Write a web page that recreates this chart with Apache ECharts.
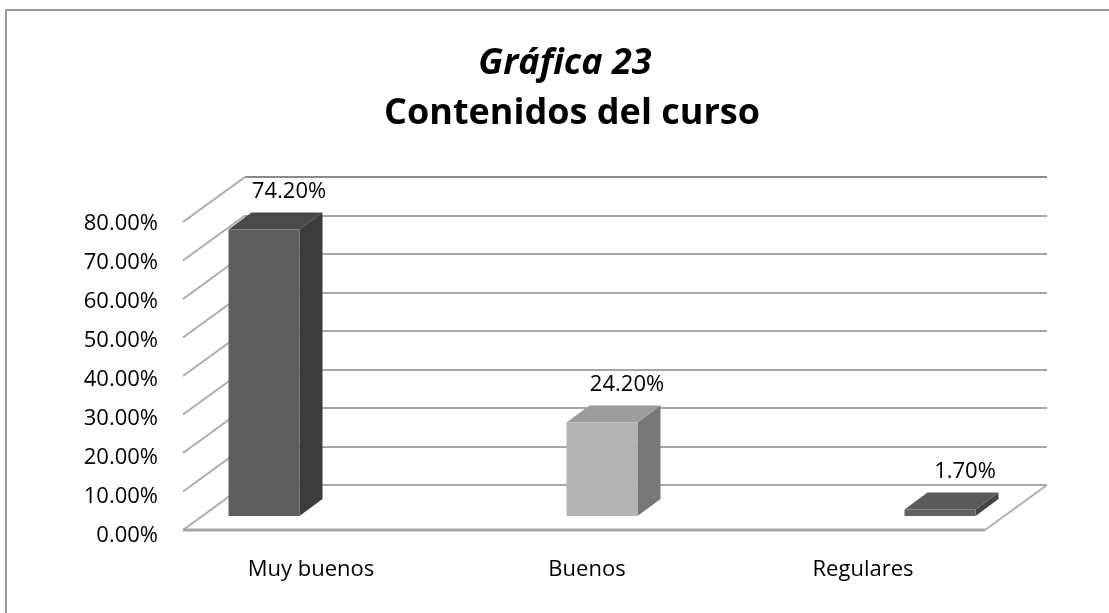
<!DOCTYPE html>
<html><head><meta charset="utf-8">
<script src="https://cdn.jsdelivr.net/npm/echarts@6/dist/echarts.min.js"></script>
<style>html,body{margin:0;padding:0;background:#fff}#c{width:1109px;height:613px}</style>
</head><body><div id="c"></div>
<script>
const categories = ['Muy buenos', 'Buenos', 'Regulares'];
const values = [74.2, 24.2, 1.7];
const yTicks = [0, 10, 20, 30, 40, 50, 60, 70, 80];
const titleLine1 = 'Gráfica 23';
const titleLine2 = 'Contenidos del curso';

const FONT = '"Open Sans", sans-serif';
const WALL_DX = -62, WALL_DY = 45;
const BAR_DX = 23, BAR_DY = -17;
const BAR_W = 71;
const barColors = [
  {front: '#5e5e5e', top: '#4a4a4a', side: '#3c3c3c'},
  {front: '#b4b4b4', top: '#9c9c9c', side: '#777777'},
  {front: '#626262', top: '#5a5a5a', side: '#444444'}
];

function renderDiag(params, api) {
  const p = api.coord([0, api.value(1)]);
  return {type: 'line', shape: {x1: p[0] + WALL_DX, y1: p[1] + WALL_DY, x2: p[0], y2: p[1]},
    style: {stroke: '#ababab', lineWidth: 2}};
}
function renderFloor(params, api) {
  const a = api.coord([0, 0]), b = api.coord([1, 0]);
  return {type: 'group', children: [
    {type: 'line', shape: {x1: a[0] + WALL_DX, y1: a[1] + WALL_DY, x2: b[0] + WALL_DX, y2: b[1] + WALL_DY},
      style: {stroke: '#a6a6a6', lineWidth: 3}},
    {type: 'line', shape: {x1: b[0] + WALL_DX, y1: b[1] + WALL_DY, x2: b[0], y2: b[1]},
      style: {stroke: '#b0b0b0', lineWidth: 2}}
  ]};
}
function renderBar(params, api) {
  const i = api.value(0), v = api.value(1);
  const top = api.coord([i, v]), base = api.coord([i, 0]);
  const cx = top[0], x0 = cx - BAR_W / 2, x1 = cx + BAR_W / 2;
  const c = barColors[params.dataIndex];
  const yt = top[1], yb = base[1];
  return {type: 'group', children: [
    {type: 'polygon', shape: {points: [[x1, yt], [x1 + BAR_DX, yt + BAR_DY], [x1 + BAR_DX, yb + BAR_DY], [x1, yb]]}, style: {fill: c.side}},
    {type: 'polygon', shape: {points: [[x0, yt], [x1, yt], [x1 + BAR_DX, yt + BAR_DY], [x0 + BAR_DX, yt + BAR_DY]]}, style: {fill: c.top}},
    {type: 'rect', shape: {x: x0, y: yt, width: BAR_W, height: yb - yt}, style: {fill: c.front}},
    {type: 'text', x: cx + 25, y: yt - 38, style: {text: v.toFixed(2) + '%', align: 'center', verticalAlign: 'middle',
      fontFamily: FONT, fontSize: 22, fill: '#000'}}
  ]};
}

const gridColors = ['#a6a6a6','#a6a6a6','#a6a6a6','#a6a6a6','#a6a6a6','#a6a6a6','#a6a6a6','#a6a6a6','#8a8a8a'];

const chart = echarts.init(document.getElementById('c'), null, {renderer: 'canvas'});
chart.setOption({
  animation: false,
  backgroundColor: '#fff',
  title: [
    {text: titleLine1, left: 560, top: 41, textAlign: 'center',
      textStyle: {fontFamily: FONT, fontSize: 36, fontWeight: 'bold', fontStyle: 'italic', color: '#000'}},
    {text: titleLine2, left: 567, top: 91, textAlign: 'center',
      textStyle: {fontFamily: FONT, fontSize: 36, fontWeight: 'bold', color: '#000'}}
  ],
  graphic: [{type: 'rect', shape: {x: 6, y: 10, width: 1200, height: 700}, style: {fill: 'none', stroke: '#9a9a9a', lineWidth: 2}, z: -1}],
  grid: [
    {left: 245, right: 62, top: 177, bottom: 128, containLabel: false, outerBoundsMode: 'none'},
    {left: 95, right: 0, top: 207, bottom: 97, containLabel: false, outerBoundsMode: 'none'},
    {left: 173, right: 108, top: 224, bottom: 77, containLabel: false, outerBoundsMode: 'none'}
  ],
  xAxis: [
    {gridIndex: 0, type: 'value', min: 0, max: 1, show: false},
    {gridIndex: 1, type: 'category', data: categories, show: false},
    {gridIndex: 2, type: 'category', data: categories, axisLine: {show: false}, axisTick: {show: false},
      axisLabel: {fontFamily: FONT, fontSize: 22, color: '#000', margin: 23}}
  ],
  yAxis: [
    {gridIndex: 0, type: 'value', min: 0, max: 80, interval: 10, axisLabel: {show: false}, axisLine: {show: false},
      axisTick: {show: false}, splitLine: {show: true, lineStyle: {color: gridColors, width: 2}}},
    {gridIndex: 1, type: 'value', min: 0, max: 80, interval: 10, show: false},
    {gridIndex: 2, type: 'value', min: 0, max: 80, interval: 10, axisLine: {show: false}, axisTick: {show: false},
      splitLine: {show: false},
      axisLabel: {formatter: v => v.toFixed(2) + '%', fontFamily: FONT, fontSize: 22, color: '#000', margin: 15}}
  ],
  series: [
    {type: 'custom', xAxisIndex: 0, yAxisIndex: 0, data: yTicks.map(v => [0, v]), renderItem: renderDiag, silent: true},
    {type: 'custom', xAxisIndex: 0, yAxisIndex: 0, data: [[0, 0]], renderItem: renderFloor, silent: true},
    {type: 'custom', xAxisIndex: 1, yAxisIndex: 1, data: values.map((v, i) => [i, v]), renderItem: renderBar, silent: true}
  ]
});
</script></body></html>
